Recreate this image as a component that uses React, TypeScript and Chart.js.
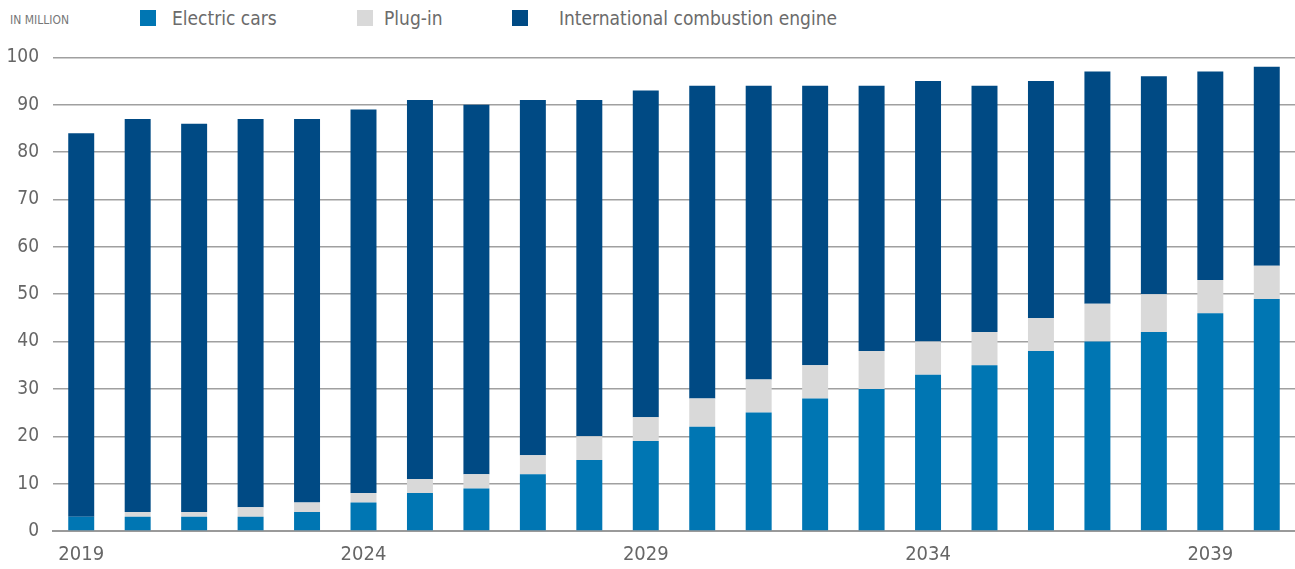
import React, { useEffect, useRef } from "react";
import { Chart, registerables } from "chart.js";

Chart.register(...registerables);

const years = [
  "2019", "2020", "2021", "2022", "2023", "2024", "2025", "2026", "2027", "2028", "2029",
  "2030", "2031", "2032", "2033", "2034", "2035", "2036", "2037", "2038", "2039", "2040",
];
const electricCars = [3, 3, 3, 3, 4, 6, 8, 9, 12, 15, 19, 22, 25, 28, 30, 33, 35, 38, 40, 42, 46, 49];
const plugIn = [0, 1, 1, 2, 2, 2, 3, 3, 4, 5, 5, 6, 7, 7, 8, 7, 7, 7, 8, 8, 7, 7];
const combustion = [81, 83, 82, 82, 81, 81, 80, 78, 75, 71, 69, 66, 62, 59, 56, 55, 52, 50, 49, 46, 44, 42];
const shownYears = ["2019", "2024", "2029", "2034", "2039"];

const COLOR_EV = "#0076b3";
const COLOR_PLUG = "#d9d9d9";
const COLOR_ICE = "#004a84";
const FONT = "'Liberation Sans Narrow', 'DejaVu Sans Condensed', 'Roboto', sans-serif";

export default function App() {
  const ref = useRef<HTMLCanvasElement | null>(null);

  useEffect(() => {
    document.body.style.margin = "0";
    if (!ref.current) return;
    const chart = new Chart(ref.current, {
      type: "bar",
      data: {
        labels: years,
        datasets: [
          { label: "Electric cars", data: electricCars, backgroundColor: COLOR_EV },
          { label: "Plug-in", data: plugIn, backgroundColor: COLOR_PLUG },
          { label: "International combustion engine", data: combustion, backgroundColor: COLOR_ICE },
        ],
      },
      options: {
        animation: false,
        responsive: false,
        maintainAspectRatio: false,
        layout: { padding: { top: 0, right: 0, left: 0, bottom: 0 } },
        datasets: { bar: { barPercentage: 0.46, categoryPercentage: 1 } },
        plugins: { legend: { display: false }, tooltip: { enabled: false } },
        scales: {
          x: {
            stacked: true,
            grid: { display: false, drawTicks: false },
            border: { display: true, color: "#9a9a9a", width: 2 },
            ticks: {
              autoSkip: false,
              maxRotation: 0,
              padding: 12,
              color: "#666666",
              font: { family: FONT, size: 20 },
              callback: function (_v: any, i: number) {
                return shownYears.includes(years[i]) ? years[i] : "";
              },
            },
          },
          y: {
            stacked: true,
            min: 0,
            max: 100,
            afterFit: (axis: any) => {
              axis.width = 53;
            },
            ticks: { stepSize: 10, padding: 14, color: "#666666", font: { family: FONT, size: 19 } },
            grid: { color: "#a0a0a0", lineWidth: 1.5, drawTicks: false },
            border: { display: false },
          },
        },
      },
    });
    return () => chart.destroy();
  }, []);

  const legendText: React.CSSProperties = {
    position: "absolute",
    top: 4,
    fontFamily: FONT,
    fontSize: 19,
    color: "#6b6b6b",
    lineHeight: "28px",
    whiteSpace: "nowrap",
  };
  const box = (left: number, color: string): React.CSSProperties => ({
    position: "absolute",
    left,
    top: 10,
    width: 16,
    height: 16,
    background: color,
  });

  return (
    <div style={{ position: "relative", width: 1295, height: 569, background: "#fff", overflow: "hidden" }}>
      <div
        style={{
          position: "absolute",
          left: 10,
          top: 12,
          fontFamily: FONT,
          fontSize: 12,
          color: "#777777",
          lineHeight: "16px",
        }}
      >
        IN MILLION
      </div>
      <div style={box(140, COLOR_EV)} />
      <div style={{ ...legendText, left: 172 }}>Electric cars</div>
      <div style={box(357, COLOR_PLUG)} />
      <div style={{ ...legendText, left: 384 }}>Plug-in</div>
      <div style={box(512, COLOR_ICE)} />
      <div style={{ ...legendText, left: 559 }}>International combustion engine</div>
      <canvas
        ref={ref}
        width={1295}
        height={547}
        style={{ position: "absolute", left: 0, top: 32, width: 1295, height: 547 }}
      />
    </div>
  );
}
